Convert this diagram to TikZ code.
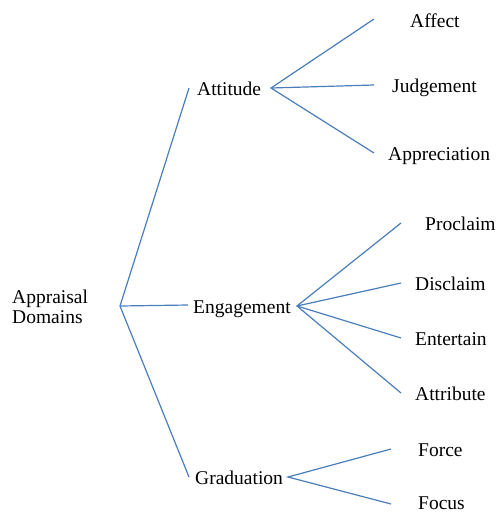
\documentclass[tikz,border=0pt]{standalone}
\usepackage{fontspec}
\setmainfont{Liberation Serif}
\definecolor{linkblue}{HTML}{4A7EBB}
\begin{document}
\begin{tikzpicture}[x=1pt,y=-1pt,
  lbl/.style={anchor=base west,inner sep=0pt,font=\fontsize{19.5}{21}\selectfont},
  link/.style={draw=linkblue,line width=1.2pt}]
\useasboundingbox (0,0) rectangle (497,512);
% texts
\node[lbl,align=left,font=\fontsize{19.5}{20}\selectfont] (root) at (12,323) {Appraisal\\Domains};
\node[lbl] (att) at (197,95) {Attitude};
\node[lbl] (eng) at (193,313) {Engagement};
\node[lbl] (gra) at (195,484) {Graduation};
\node[lbl] (aff) at (410,27) {Affect};
\node[lbl] (jud) at (392,92) {Judgement};
\node[lbl] (app) at (388,160) {Appreciation};
\node[lbl] (pro) at (425,230) {Proclaim};
\node[lbl] (dis) at (415,290) {Disclaim};
\node[lbl] (ent) at (415,345) {Entertain};
\node[lbl] (atr) at (415,400) {Attribute};
\node[lbl] (for) at (418,456) {Force};
\node[lbl] (foc) at (418,509) {Focus};
% junctions and ends
\coordinate (jr) at (120,306);
\coordinate (ja) at (271,88);
\coordinate (je) at (297,306);
\coordinate (jg) at (288,477);
\coordinate (eatt) at (189,88);
\coordinate (eeng) at (188,305);
\coordinate (egra) at (189,477);
\coordinate (eaff) at (374,19);
\coordinate (ejud) at (374,85);
\coordinate (eapp) at (374,153);
\coordinate (epro) at (401,223);
\coordinate (edis) at (401,283);
\coordinate (eent) at (401,338);
\coordinate (eatr) at (401,393);
\coordinate (efor) at (391,449);
\coordinate (efoc) at (391,504);
% connectors
\draw[link] (eatt) -- (jr) -- (egra);
\draw[link] (jr) -- (eeng);
\draw[link] (eaff) -- (ja) -- (eapp);
\draw[link] (ja) -- (ejud);
\draw[link] (epro) -- (je) -- (eatr);
\draw[link] (je) -- (edis);
\draw[link] (je) -- (eent);
\draw[link] (efor) -- (jg) -- (efoc);
\end{tikzpicture}
\end{document}
